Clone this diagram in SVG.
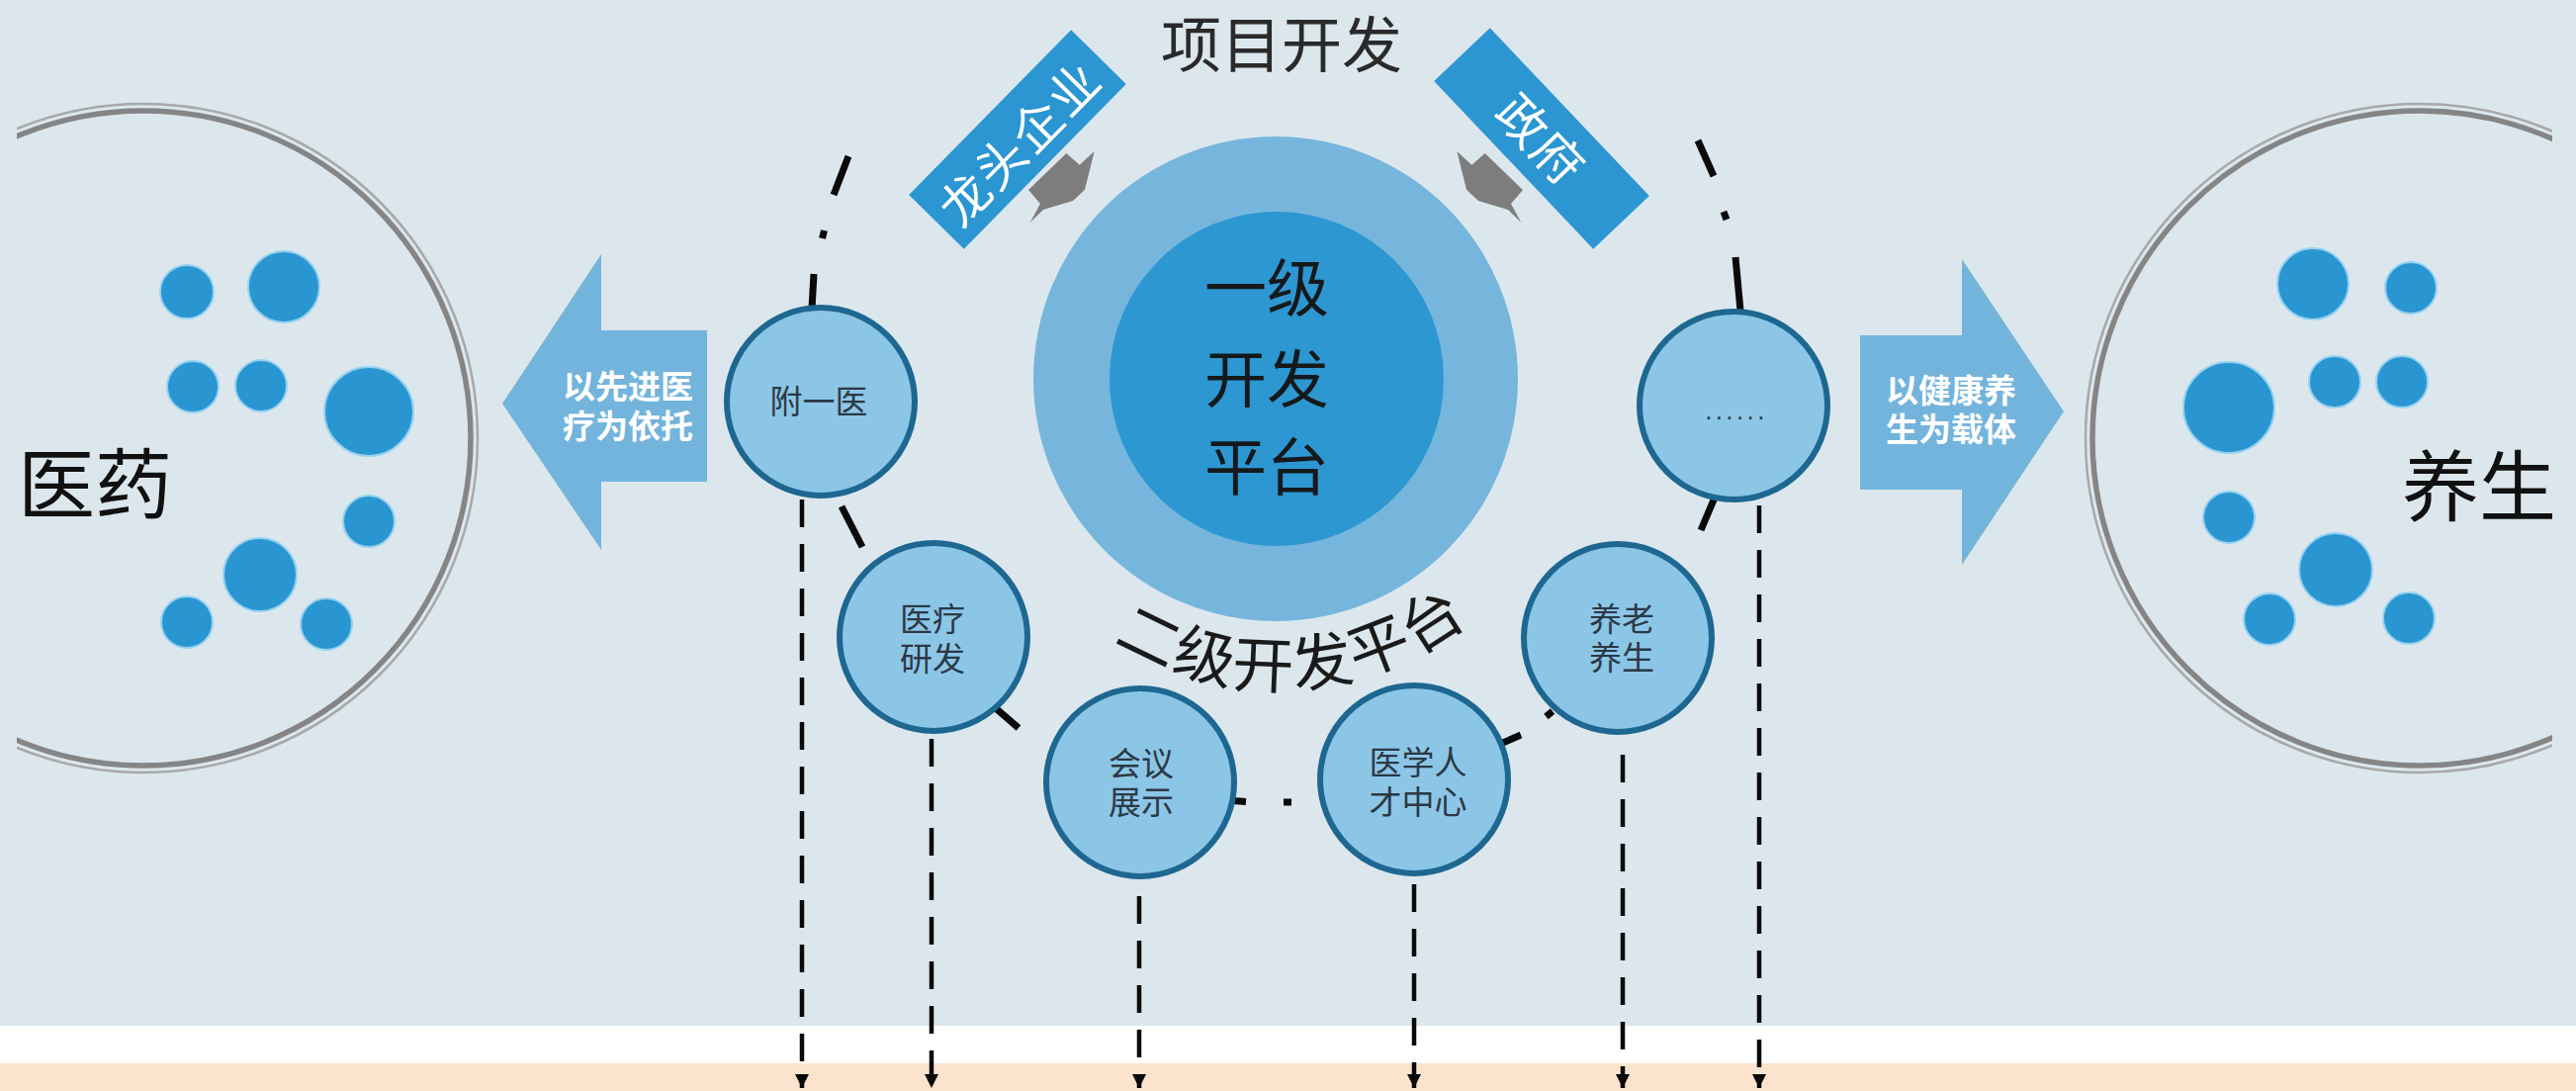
<svg xmlns="http://www.w3.org/2000/svg" width="2605" height="1103" viewBox="0 0 2605 1103">
<style>
.cjk{font-family:"Noto Sans CJK SC","Noto Sans",sans-serif}
.big{font-size:78px;fill:#111}
.ctr{font-size:63px;fill:#15191c;text-anchor:middle}
.top{font-size:61px;fill:#2a2a2a;text-anchor:middle}
.arw{font-size:33px;font-weight:bold;fill:#ffffff;text-anchor:middle}
.nt{font-size:33px;fill:#2b3945;text-anchor:middle}
.rot{font-size:50px;fill:#ffffff;text-anchor:middle;letter-spacing:2px}
.dot{fill:#2a96d1;stroke:#96d2f1;stroke-width:2}
.ringA{fill:none;stroke:#858585;stroke-width:5.5}
.ringB{fill:none;stroke:#a8a8a8;stroke-width:2.5}
.node{fill:#8cc6e7;stroke:#1d6791;stroke-width:6}
.ring-dash{stroke:#0a0a0a;stroke-width:7;fill:none}
.vline{stroke:#0a0a0a;stroke-width:4.5;stroke-dasharray:28 17;fill:none}
.gray{fill:#7d7d7d}
.box{fill:#2b96d1}
.barrow{fill:#73b4dc}
</style>
<defs>
<clipPath id="clipRings"><rect x="17" y="0" width="2564" height="1103"/></clipPath>
<marker id="ah" viewBox="0 0 10 10" refX="10" refY="5" markerUnits="userSpaceOnUse" markerWidth="18" markerHeight="14" orient="auto">
<path d="M0,0 L10,5 L0,10 z" fill="#0a0a0a"/>
</marker>
<path id="arc2" d="M1089.4,622 A313,313 0 0 0 1529.8,584.2"/>
</defs>

<!-- background bands -->
<rect x="0" y="0" width="2605" height="1037" fill="#dce7ed"/>
<rect x="0" y="1037" width="2605" height="38" fill="#ffffff"/>
<rect x="0" y="1075" width="2605" height="28" fill="#fce3cd"/>

<!-- left big ring: 医药 -->
<g id="pharma">
<g clip-path="url(#clipRings)">
<circle class="ringA" cx="145" cy="443" r="331"/>
<circle class="ringB" cx="145" cy="443" r="338"/>
</g>
<circle class="dot" cx="189" cy="295" r="27"/>
<circle class="dot" cx="287" cy="290" r="36"/>
<circle class="dot" cx="195" cy="391" r="26"/>
<circle class="dot" cx="264" cy="390" r="26"/>
<circle class="dot" cx="373" cy="416" r="45"/>
<circle class="dot" cx="373" cy="527" r="26"/>
<circle class="dot" cx="263" cy="581" r="37"/>
<circle class="dot" cx="189" cy="629" r="26"/>
<circle class="dot" cx="330" cy="631" r="26"/>
<text class="cjk big" x="18" y="519">医药</text>
</g>

<!-- right big ring: 养生 -->
<g id="health">
<g clip-path="url(#clipRings)">
<circle class="ringA" cx="2447" cy="443" r="331"/>
<circle class="ringB" cx="2447" cy="443" r="338"/>
</g>
<circle class="dot" cx="2339" cy="287" r="36"/>
<circle class="dot" cx="2438" cy="291" r="26"/>
<circle class="dot" cx="2254" cy="412" r="46"/>
<circle class="dot" cx="2361" cy="386" r="26"/>
<circle class="dot" cx="2429" cy="386" r="26"/>
<circle class="dot" cx="2254" cy="523" r="26"/>
<circle class="dot" cx="2362" cy="576" r="37"/>
<circle class="dot" cx="2295" cy="626" r="26"/>
<circle class="dot" cx="2436" cy="625" r="26"/>
<text class="cjk big" x="2507" y="521" text-anchor="middle">养生</text>
</g>

<!-- left block arrow -->
<g id="arrow-left">
<polygon class="barrow" points="508,408 608,257 608,334 715,334 715,487 608,487 608,556"/>
<text class="cjk arw" x="635" y="403">以先进医</text>
<text class="cjk arw" x="635" y="443">疗为依托</text>
</g>

<!-- right block arrow -->
<g id="arrow-right">
<polygon class="barrow" points="2087,416 1984,262 1984,339 1881,339 1881,495 1984,495 1984,571"/>
<text class="cjk arw" x="1973" y="407">以健康养</text>
<text class="cjk arw" x="1973" y="446">生为载体</text>
</g>

<!-- title -->
<g id="title">
<text class="cjk top" x="1296" y="68">项目开发</text>
</g>

<!-- dash-dot ring linking the secondary platforms -->
<g id="ring" stroke-linecap="butt">
<line class="ring-dash" x1="858" y1="158" x2="843" y2="197"/>
<line class="ring-dash" x1="833.5" y1="233" x2="831.5" y2="241" stroke-width="8"/>
<line class="ring-dash" x1="823" y1="277" x2="821" y2="312"/>
<line class="ring-dash" x1="851" y1="512" x2="872" y2="553"/>
<line class="ring-dash" x1="1000" y1="710" x2="1030" y2="736"/>
<line class="ring-dash" x1="1240" y1="809" x2="1260" y2="810.5" stroke-width="8"/>
<line class="ring-dash" x1="1298" y1="811" x2="1306" y2="811" stroke-width="8"/>
<line class="ring-dash" x1="1515" y1="753" x2="1538" y2="743"/>
<line class="ring-dash" x1="1563.5" y1="724.5" x2="1570" y2="719" stroke-width="8"/>
<line class="ring-dash" x1="1734" y1="503" x2="1720" y2="536"/>
<line class="ring-dash" x1="1755" y1="260" x2="1760" y2="314"/>
<line class="ring-dash" x1="1743" y1="214" x2="1746" y2="222" stroke-width="8"/>
<line class="ring-dash" x1="1717" y1="142" x2="1733" y2="178"/>
</g>

<!-- vertical connectors -->
<g id="connectors">
<line class="vline" x1="811" y1="505" x2="811" y2="1100" marker-end="url(#ah)"/>
<line class="vline" x1="942" y1="747" x2="942" y2="1100" marker-end="url(#ah)"/>
<line class="vline" x1="1152" y1="906" x2="1152" y2="1100" marker-end="url(#ah)"/>
<line class="vline" x1="1430" y1="894" x2="1430" y2="1100" marker-end="url(#ah)"/>
<line class="vline" x1="1641" y1="763" x2="1641" y2="1100" marker-end="url(#ah)"/>
<line class="vline" x1="1779" y1="511" x2="1779" y2="1100" marker-end="url(#ah)"/>
</g>

<!-- primary platform -->
<g id="primary">
<circle cx="1290" cy="383" r="245" fill="#77b6dc"/>
<circle cx="1291" cy="383" r="169" fill="#2d97d2"/>
<text class="cjk ctr" x="1281" y="314">一级</text>
<text class="cjk ctr" x="1281" y="406">开发</text>
<text class="cjk ctr" x="1281" y="495">平台</text>
</g>

<!-- 龙头企业 -->
<g id="leader">
<rect class="box" x="-117" y="-39" width="234" height="78" transform="translate(1029,141) rotate(-45.5)"/>
<text class="cjk rot" transform="translate(1031,146) rotate(-45.5)" x="1" y="18">龙头企业</text>
<polygon class="gray" points="1078.3,155 1091.7,166.7 1106.7,153 1097,191.7 1085,203 1055,212 1041.7,225 1052,206 1040,192"/>
</g>

<!-- 政府 -->
<g id="government">
<rect class="box" x="-117" y="-39" width="234" height="78" transform="translate(1559,140) rotate(46.5)"/>
<text class="cjk rot" transform="translate(1557,141) rotate(46.5)" x="1" y="18">政府</text>
<polygon class="gray" points="1501.7,155 1488.3,166.7 1473.3,153 1483,191.7 1495,203 1525,212 1538.3,225 1528,206 1540,192"/>
</g>

<!-- 二级开发平台 label -->
<g id="secondary-label">
<text class="cjk" font-size="62" fill="#1a1a1a" letter-spacing="2" text-anchor="middle"><textPath href="#arc2" startOffset="48.4%">二级开发平台</textPath></text>
</g>

<!-- secondary nodes -->
<g id="node-fuyiyi">
<circle class="node" cx="830" cy="406" r="95"/>
<text class="cjk nt" x="828" y="418">附一医</text>
</g>
<g id="node-yiliao">
<circle class="node" cx="944" cy="644" r="95"/>
<text class="cjk nt" x="943" y="638">医疗</text>
<text class="cjk nt" x="943" y="678">研发</text>
</g>
<g id="node-huiyi">
<circle class="node" cx="1153" cy="791" r="95"/>
<text class="cjk nt" x="1154" y="784">会议</text>
<text class="cjk nt" x="1154" y="823">展示</text>
</g>
<g id="node-rencai">
<circle class="node" cx="1430" cy="788" r="95"/>
<text class="cjk nt" x="1434" y="783">医学人</text>
<text class="cjk nt" x="1434" y="823">才中心</text>
</g>
<g id="node-yanglao">
<circle class="node" cx="1636" cy="645" r="95"/>
<text class="cjk nt" x="1640" y="638">养老</text>
<text class="cjk nt" x="1640" y="677">养生</text>
</g>
<g id="node-more">
<circle class="node" cx="1753" cy="410" r="95"/>
<text x="1756" y="424" font-family="Liberation Sans, sans-serif" font-size="26" fill="#2b3945" letter-spacing="3.4" text-anchor="middle">......</text>
</g>
</svg>
